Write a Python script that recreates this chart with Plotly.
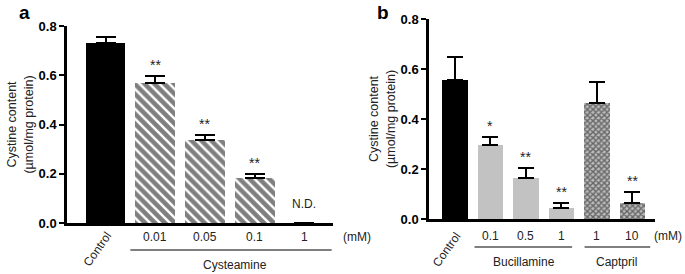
import plotly.graph_objects as go

W, H = 685, 274

# Panel a data
a_labels = ["Control", "0.01", "0.05", "0.1", "1"]
a_values = [0.730, 0.569, 0.337, 0.183, 0.0]
a_err = [0.025, 0.029, 0.021, 0.017, 0.0]
a_sig = ["", "**", "**", "**", ""]

# Panel b data
b_labels = ["Control", "0.1", "0.5", "1", "1", "10"]
b_values = [0.556, 0.296, 0.164, 0.044, 0.464, 0.064]
b_err = [0.092, 0.032, 0.040, 0.020, 0.084, 0.044]
b_sig = ["", "*", "**", "**", "", "**"]

y_ticks = [0.0, 0.2, 0.4, 0.6, 0.8]

FONT = "Liberation Sans, Arial, sans-serif"

def px_x(X):
    return X / W

def px_y(Y):
    return 1 - Y / H

fig = go.Figure()

# Panel a bars
fig.add_trace(go.Bar(
    x=[0], y=a_values[:1], width=0.8, marker=dict(color="black", line=dict(width=0)),
    error_y=dict(type="data", array=a_err[:1], arrayminus=[0], symmetric=False,
                 color="black", thickness=2, width=10),
    xaxis="x", yaxis="y", showlegend=False))
fig.add_trace(go.Bar(
    x=[1, 2, 3, 4], y=a_values[1:], width=0.8,
    marker=dict(color="white", line=dict(width=0),
                pattern=dict(shape="\\", fgcolor="black", bgcolor="white", size=7, solidity=0.65)),
    error_y=dict(type="data", array=a_err[1:], arrayminus=[0]*4, symmetric=False,
                 color="black", thickness=2, width=10),
    xaxis="x", yaxis="y", showlegend=False))

# Panel b bars
fig.add_trace(go.Bar(
    x=[0], y=b_values[:1], width=0.73, marker=dict(color="black", line=dict(width=0)),
    error_y=dict(type="data", array=b_err[:1], arrayminus=[0], symmetric=False,
                 color="black", thickness=2, width=8),
    xaxis="x2", yaxis="y2", showlegend=False))
fig.add_trace(go.Bar(
    x=[1, 2, 3], y=b_values[1:4], width=0.73, marker=dict(color="#c2c2c2", line=dict(width=0)),
    error_y=dict(type="data", array=b_err[1:4], arrayminus=[0]*3, symmetric=False,
                 color="black", thickness=2, width=8),
    xaxis="x2", yaxis="y2", showlegend=False))
fig.add_trace(go.Bar(
    x=[4, 5], y=b_values[4:], width=0.73,
    marker=dict(color="white", line=dict(width=0),
                pattern=dict(shape="x", fgcolor="#111111", bgcolor="#bdbdbd", size=4, solidity=0.6)),
    error_y=dict(type="data", array=b_err[4:], arrayminus=[0]*2, symmetric=False,
                 color="black", thickness=2, width=8),
    xaxis="x2", yaxis="y2", showlegend=False))

yax = dict(range=[0, 0.8], tickvals=y_ticks, tickformat=".1f", ticks="outside",
           ticklen=5, tickwidth=2, tickcolor="black", showline=True, linewidth=2.5,
           linecolor="black", showgrid=False, zeroline=False, automargin=False,
           tickfont=dict(family=FONT, size=13, color="black", weight="bold"),
           title=dict(text="Cystine content<br>(µmol/mg protein)",
                      font=dict(family=FONT, size=12.5, color="#222")))
xax = dict(showline=True, linewidth=2.5, linecolor="black", showticklabels=False,
           ticks="", showgrid=False, zeroline=False, automargin=False)

fig.update_layout(
    width=W, height=H, margin=dict(l=0, r=0, t=0, b=0, autoexpand=False),
    plot_bgcolor="white", paper_bgcolor="white", bargap=0,
    xaxis=dict(xax, domain=[px_x(67), px_x(333)], range=[-0.775, 4.577], anchor="y"),
    yaxis=dict(yax, domain=[px_y(223), px_y(26)], anchor="x", title_standoff=3),
    xaxis2=dict(xax, domain=[px_x(429), px_x(655)], range=[-0.732, 5.634], anchor="y2"),
    yaxis2=dict(yax, domain=[px_y(219), px_y(19)], anchor="x2", title_standoff=3),
)

ann = []
lbl_font = dict(family=FONT, size=12, color="#222")

def A(**kw):
    d = dict(showarrow=False, xanchor="center", yanchor="middle")
    d.update(kw)
    ann.append(d)

# Panel letters
A(text="<b>a</b>", x=px_x(25), y=1, xref="paper", yref="paper", yanchor="top",
  font=dict(family=FONT, size=19, color="black"))
A(text="<b>b</b>", x=px_x(383), y=1, xref="paper", yref="paper", yanchor="top",
  font=dict(family=FONT, size=19, color="black"))

def add_panel_labels(xr, labels, values, err, sig, label_y):
    yr = xr.replace("x", "y")
    for i, (lab, v, e, s) in enumerate(zip(labels, values, err, sig)):
        if i == 0:
            A(text=lab, x=i, y=px_y(249), xref=xr, yref="paper", xshift=-8,
              textangle=-55, font=lbl_font)
        else:
            A(text=lab, x=i, y=px_y(label_y), xref=xr, yref="paper", font=lbl_font)
        if s:
            A(text=s, x=i, y=v + e, xref=xr, yref=yr, yanchor="bottom", yshift=1,
              font=dict(family=FONT, size=14, color="#222"))

add_panel_labels("x", a_labels, a_values, a_err, a_sig, 237)
add_panel_labels("x2", b_labels, b_values, b_err, b_sig, 236)

A(text="N.D.", x=4, y=0, xref="x", yref="y", yanchor="bottom", yshift=10, font=lbl_font)
A(text="(mM)", x=px_x(357), y=px_y(237), xref="paper", yref="paper", font=lbl_font)
A(text="(mM)", x=px_x(668), y=px_y(236), xref="paper", yref="paper", font=lbl_font)

# Group labels
A(text="Cysteamine", x=2.6, y=px_y(265), xref="x", yref="paper", font=lbl_font)
A(text="Bucillamine", x=1.95, y=px_y(262), xref="x2", yref="paper", font=lbl_font)
A(text="Captpril", x=4.55, y=px_y(262), xref="x2", yref="paper", font=lbl_font)

shapes = [
    dict(type="line", xref="x", yref="paper", x0=0.5, x1=4.55, y0=px_y(250), y1=px_y(250),
         line=dict(color="black", width=1.2)),
    dict(type="line", xref="x2", yref="paper", x0=0.55, x1=3.3, y0=px_y(247), y1=px_y(247),
         line=dict(color="black", width=1.2)),
    dict(type="line", xref="x2", yref="paper", x0=3.65, x1=5.5, y0=px_y(247), y1=px_y(247),
         line=dict(color="black", width=1.2)),
]

fig.update_layout(annotations=ann, shapes=shapes)
fig.write_html("out.html", config={"displayModeBar": False},
               post_script="document.body.style.margin='0';document.body.style.overflow='hidden';")
